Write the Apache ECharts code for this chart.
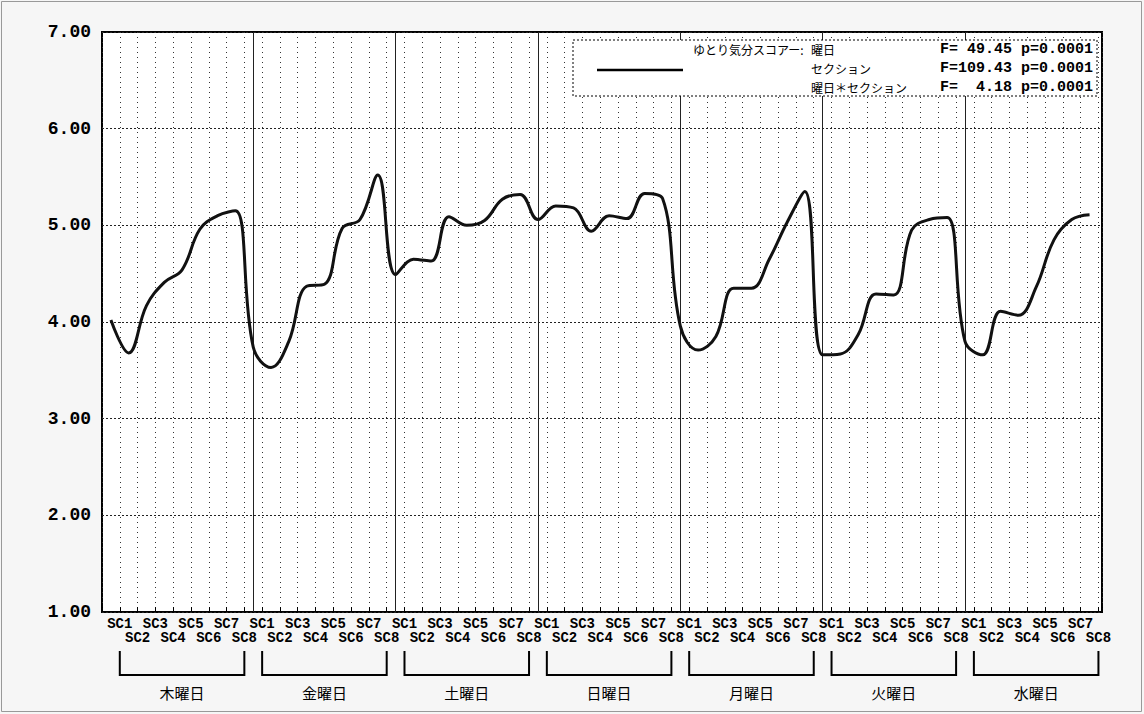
<!DOCTYPE html>
<html><head><meta charset="utf-8">
<script src="https://cdn.jsdelivr.net/npm/echarts@6/dist/echarts.min.js"></script>
<style>html,body{margin:0;padding:0;background:#fff}#c{width:1144px;height:714px}</style>
</head><body><div id="c"></div>
<script>
// ---- data ----
const days = ['木曜日','金曜日','土曜日','日曜日','月曜日','火曜日','水曜日'];
const sections = ['SC1','SC2','SC3','SC4','SC5','SC6','SC7','SC8'];
const seriesName = 'ゆとり気分スコアー:';
const thu = [4.02,3.68,4.17,4.41,4.54,4.96,5.10,5.15];
const fri = [3.74,3.53,3.80,4.37,4.39,4.97,5.06,5.52];
const sat = [4.49,4.65,4.63,5.09,5.00,5.05,5.27,5.32];
const sun = [5.06,5.20,5.18,4.94,5.10,5.07,5.33,5.28];
const mon = [3.96,3.71,3.85,4.35,4.35,4.65,5.03,5.35];
const tue = [3.66,3.67,3.87,4.29,4.28,4.95,5.06,5.08];
const wed = [3.80,3.66,4.11,4.07,4.36,4.85,5.06,5.11];
const statNames = ['曜日','セクション','曜日＊セクション'];
const fValues = [49.45, 109.43, 4.18];
const pValues = ['0.0001','0.0001','0.0001'];
const yMin = 1, yMax = 7;

// ---- build ----
const dayValues = [thu, fri, sat, sun, mon, tue, wed];
const lineData = [];
dayValues.forEach((vals, d) => vals.forEach((v, k) => lineData.push([d*8 + k - 0.5, v])));
const nPts = days.length * sections.length;

const mono = '"Liberation Mono", "DejaVu Sans Mono", monospace';
const jp = '"Noto Sans CJK JP", sans-serif';

const chart = echarts.init(document.getElementById('c'), null, {renderer: 'svg'});

const graphics = [
  {type:'rect', z:0, silent:true, shape:{x:1.5,y:1.5,width:1140,height:710},
   style:{fill:'none', stroke:'#999', lineWidth:1}},
  {type:'rect', z:100, shape:{x:573,y:40,width:524,height:56},
   style:{fill:'#fff', stroke:'#000', lineWidth:1, lineDash:[2,2]}},
  {type:'line', z:101, shape:{x1:597,y1:70,x2:683,y2:70},
   style:{stroke:'#000', lineWidth:2.5}},
  {type:'text', z:101, style:{x:693, y:49, text:seriesName, font:'12px '+jp, fill:'#000', verticalAlign:'middle'}}
];
const rowY = [49, 68, 87];
statNames.forEach((n, i) => {
  graphics.push({type:'text', z:101, style:{x:811, y:rowY[i], text:n, font:'12px '+jp, fill:'#000', verticalAlign:'middle'}});
  const f = fValues[i].toFixed(2).padStart(6, ' ');
  graphics.push({type:'text', z:101, style:{x:1093, y:rowY[i], text:'F=' + f + ' p=' + pValues[i],
    font:'bold 15px '+mono, fill:'#000', align:'right', verticalAlign:'middle'}});
});

chart.setOption({
  animation: false,
  backgroundColor: '#f6f6f6',
  graphic: graphics,
  grid: [
    {left:102, right:42, top:32, bottom:102, show:true, borderColor:'#000', borderWidth:2, backgroundColor:'#fff'},
    {left:102, right:42, top:651, height:24, show:false}
  ],
  xAxis: [
    {type:'value', gridIndex:0, min:-1, max:nPts-0.8, interval:1,
     axisLine:{show:false},
     axisTick:{show:true, inside:true, length:5, lineStyle:{color:'#000'}},
     splitLine:{show:true, lineStyle:{color:'#333', type:[1,4], width:1}},
     axisLabel:{
       margin:5, color:'#000', fontFamily:mono, fontWeight:'bold', fontSize:14, lineHeight:14,
       formatter: v => {
         if (v < 0 || v > nPts - 1) return '';
         const k = Math.round(v) % sections.length;
         return (k % 2 === 0) ? sections[k] : '\n' + sections[k];
       }
     }},
    {type:'value', gridIndex:1, min:-1, max:nPts-0.8, show:false}
  ],
  yAxis: [
    {type:'value', gridIndex:0, min:yMin, max:yMax, interval:1,
     axisLine:{show:false}, axisTick:{show:false},
     splitLine:{show:true, lineStyle:{color:'#222', type:[2,2], width:1}},
     axisLabel:{margin:11, color:'#000', fontFamily:mono, fontWeight:'bold', fontSize:18,
       formatter: v => v.toFixed(2)}},
    {type:'value', gridIndex:1, min:0, max:1, show:false}
  ],
  series: [
    {type:'line', name:seriesName, xAxisIndex:0, yAxisIndex:0, data:lineData,
     smooth:0.4, symbol:'none', lineStyle:{color:'#111', width:3}, z:5,
     markLine:{silent:true, symbol:'none', label:{show:false},
       lineStyle:{color:'#222', type:'solid', width:1},
       data: days.slice(1).map((_, d) => ({xAxis:(d+1)*sections.length - 0.5}))}},
    {type:'custom', xAxisIndex:1, yAxisIndex:1,
     data: days.map((_, d) => [d*sections.length, d*sections.length + sections.length - 1]),
     renderItem: (params, api) => {
       const a = api.coord([api.value(0), 1]);
       const b = api.coord([api.value(0), 0]);
       const c = api.coord([api.value(1), 0]);
       const e = api.coord([api.value(1), 1]);
       return {type:'group', children:[
         {type:'polyline', shape:{points:[a,b,c,e]}, style:{stroke:'#000', lineWidth:2, fill:'none'}},
         {type:'text', style:{x:(b[0]+c[0])/2, y:b[1]+17, text:days[params.dataIndex],
           font:'15px '+jp, fill:'#000', align:'center', verticalAlign:'middle'}}
       ]};
     }}
  ]
});
</script></body></html>
